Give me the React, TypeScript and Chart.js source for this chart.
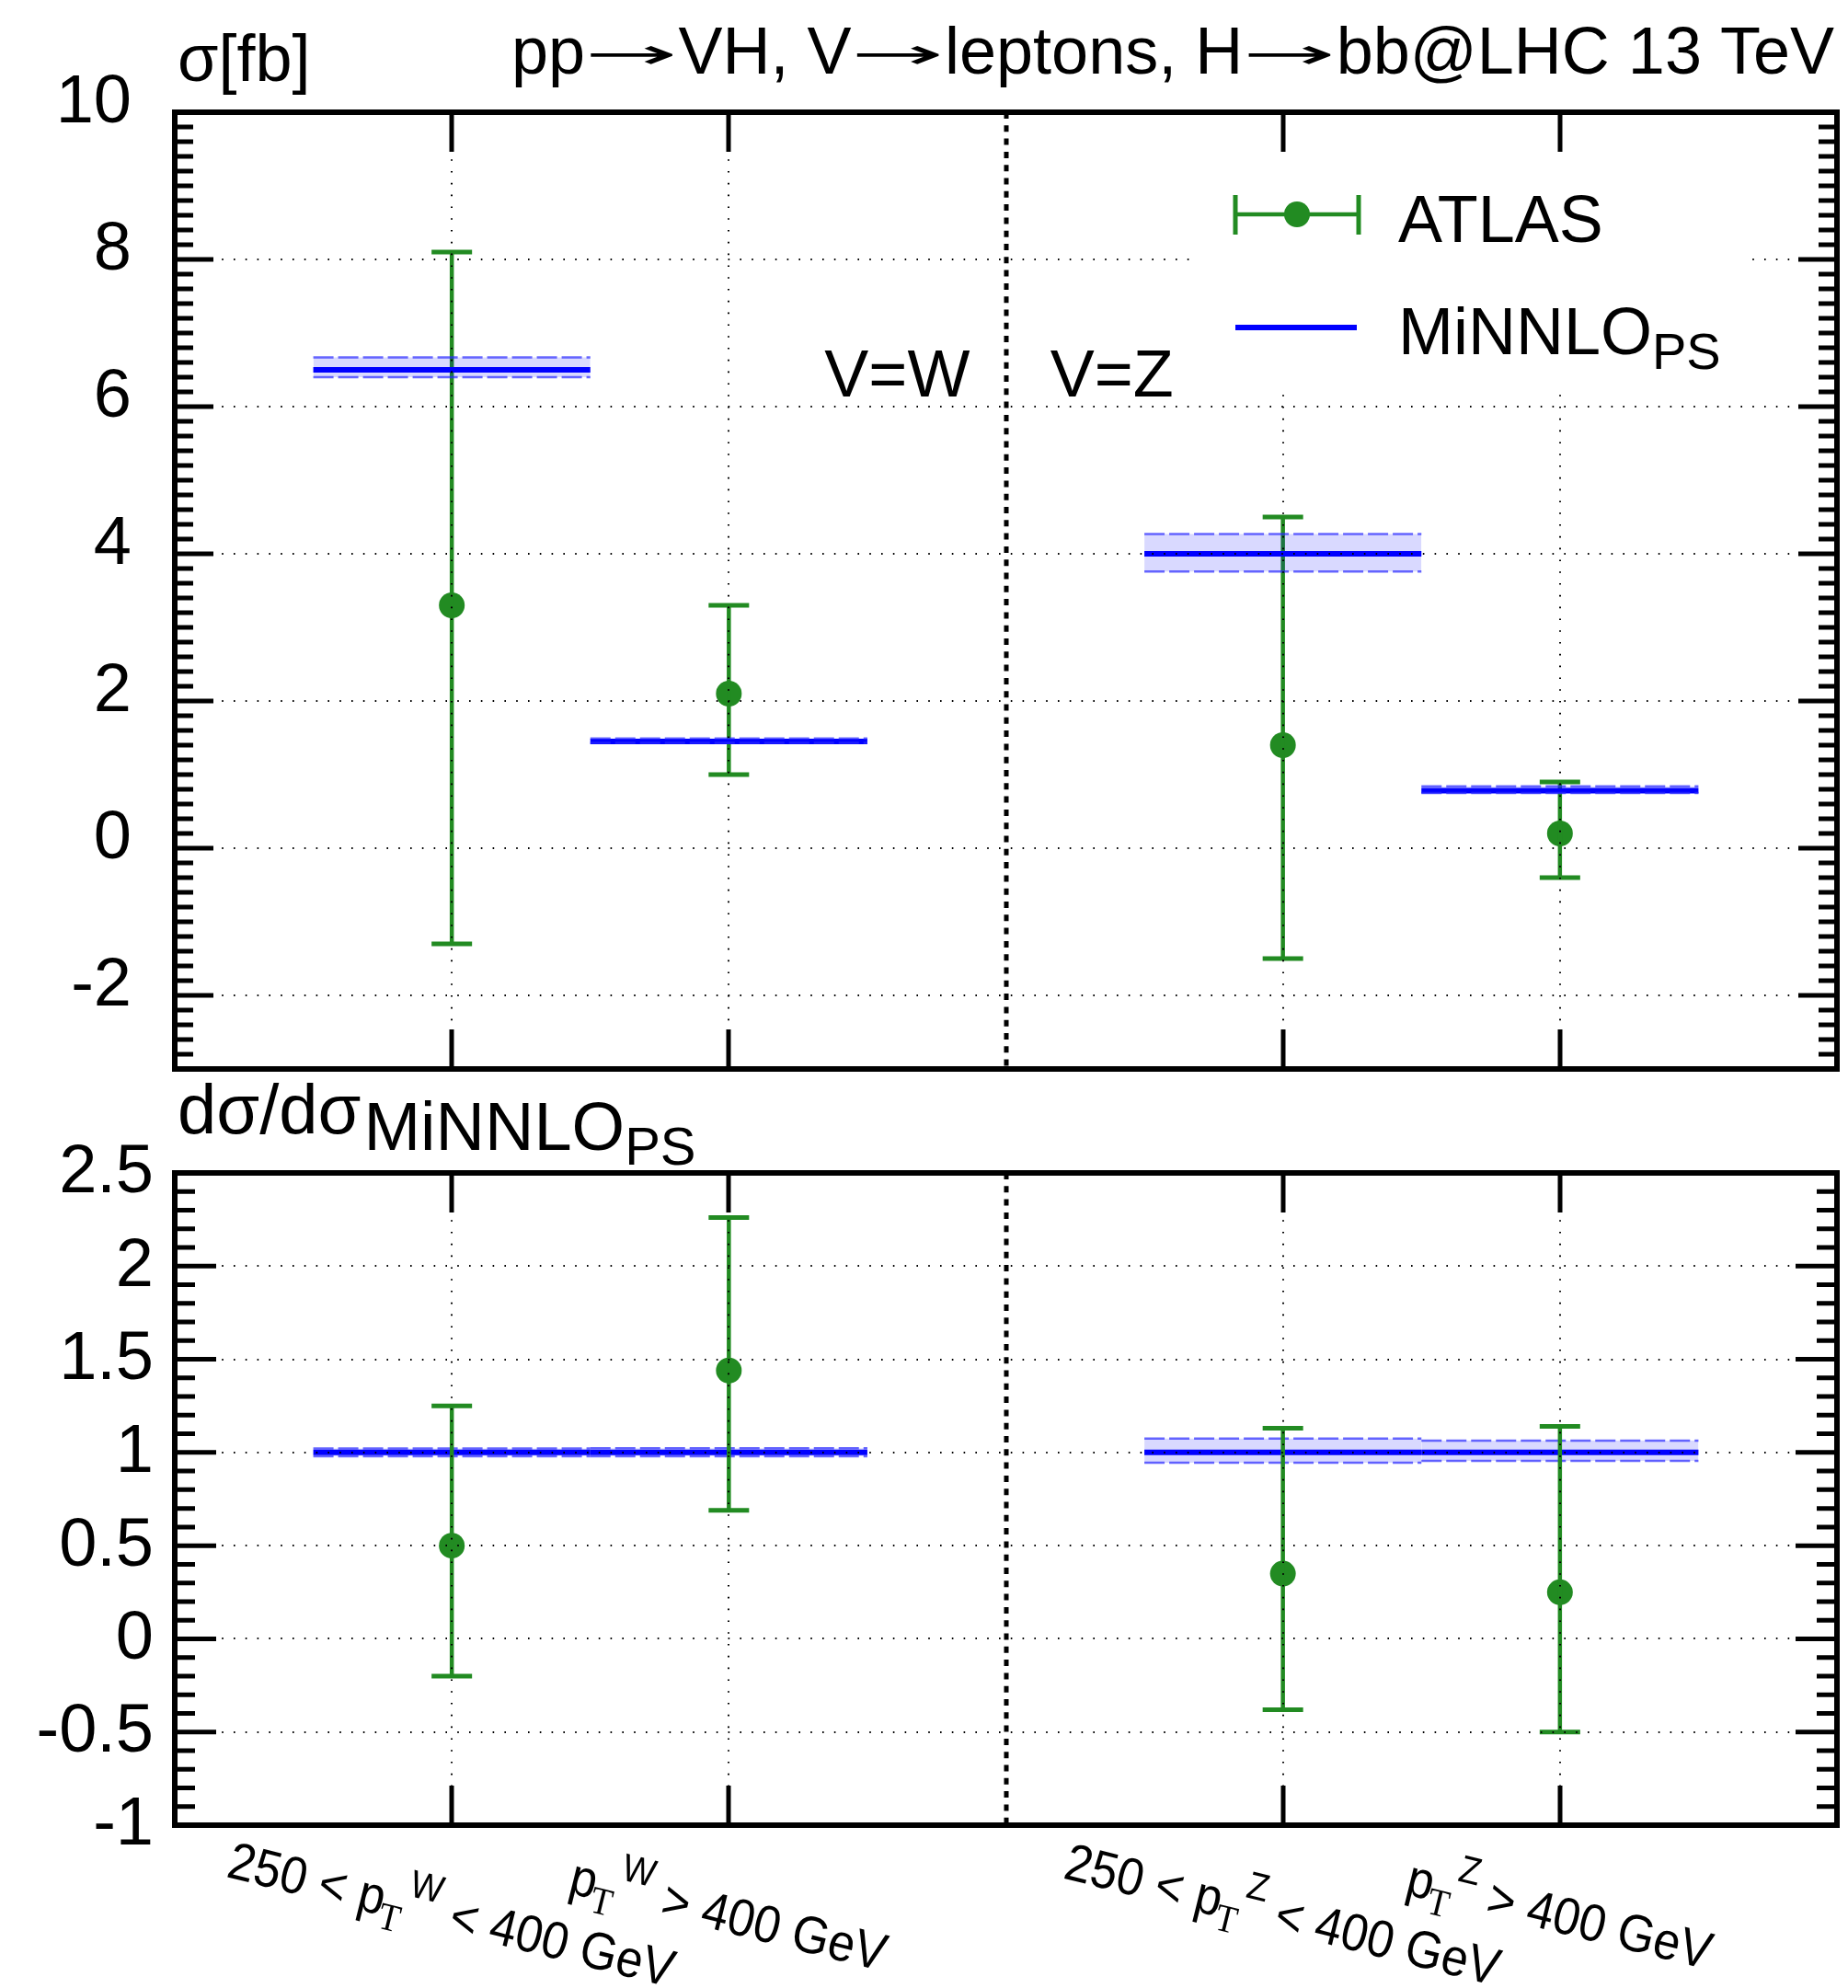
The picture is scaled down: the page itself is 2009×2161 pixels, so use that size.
import React, { useEffect, useRef } from "react";
import { Chart, registerables } from "chart.js";

Chart.register(...registerables);

const FONT = '"Liberation Sans", Arial, Helvetica, sans-serif';
const SERIF = '"Liberation Serif", "Times New Roman", serif';
const ARROW_FONT = '"DejaVu Sans", "Liberation Sans", sans-serif';
const GREEN = "#228b22";
const BLUE = "#0000ff";

// ---- categories (bins on a continuous x axis) ----
const CATEGORY_X = [1, 2, 4, 5];
const BIN_LO = [0.5, 1.5, 3.5, 4.5];
const BIN_HI = [1.5, 2.5, 4.5, 5.5];
const X_RANGE = [0, 6];
const SEPARATOR_X = 3;
const CAT_PREFIX = ["250 < p", "p", "250 < p", "p"];
const CAT_SUB = ["T", "T", "T", "T"];
const CAT_SUP = ["W", "W", "Z", "Z"];
const CAT_SUFFIX = [" < 400 GeV", " > 400 GeV", " < 400 GeV", " > 400 GeV"];

// ---- title pieces (joined by arrows) ----
const TITLE_PIECES = ["pp", "VH, V", "leptons, H", "bb@LHC 13 TeV"];

// ---- top panel: cross sections [fb] ----
const XS_RANGE = [-3, 10];
const XS_TICKS = [-2, 0, 2, 4, 6, 8, 10];
const ATLAS_XS = [3.3, 2.1, 1.4, 0.2];
const ATLAS_XS_HI = [8.1, 3.3, 4.5, 0.9];
const ATLAS_XS_LO = [-1.3, 1.0, -1.5, -0.4];
const MINNLO_XS = [6.5, 1.45, 4.0, 0.78];
const MINNLO_XS_HI = [6.67, 1.49, 4.27, 0.84];
const MINNLO_XS_LO = [6.4, 1.43, 3.76, 0.75];

// ---- bottom panel: ratio to MiNNLO_PS ----
const RATIO_RANGE = [-1, 2.5];
const RATIO_TICKS = [-1, -0.5, 0, 0.5, 1, 1.5, 2, 2.5];
const ATLAS_RATIO = [0.5, 1.44, 0.35, 0.25];
const ATLAS_RATIO_HI = [1.25, 2.26, 1.13, 1.14];
const ATLAS_RATIO_LO = [-0.2, 0.69, -0.38, -0.5];
const MINNLO_RATIO = [1, 1, 1, 1];
const MINNLO_RATIO_HI = [1.022, 1.023, 1.074, 1.064];
const MINNLO_RATIO_LO = [0.98, 0.98, 0.945, 0.955];

const PAGE_W = 2009;
const TOP_H = 1166;
const BOT_H = 995;

function bandDatasets(mid: number[], lo: number[], hi: number[], order: number) {
  const out: any[] = [];
  for (let i = 0; i < mid.length; i++) {
    out.push({
      type: "line",
      data: [
        { x: BIN_LO[i], y: lo[i] },
        { x: BIN_HI[i], y: lo[i] },
      ],
      borderColor: "rgba(40,40,255,0.7)",
      borderWidth: 2.5,
      borderDash: [22, 5],
      pointRadius: 0,
      fill: false,
      order,
    });
    out.push({
      type: "line",
      data: [
        { x: BIN_LO[i], y: hi[i] },
        { x: BIN_HI[i], y: hi[i] },
      ],
      borderColor: "rgba(40,40,255,0.7)",
      borderWidth: 2.5,
      borderDash: [22, 5],
      pointRadius: 0,
      fill: "-1",
      backgroundColor: "rgba(0,0,255,0.15)",
      order,
    });
    out.push({
      type: "line",
      data: [
        { x: BIN_LO[i], y: mid[i] },
        { x: BIN_HI[i], y: mid[i] },
      ],
      borderColor: BLUE,
      borderWidth: 6,
      pointRadius: 0,
      fill: false,
      order,
    });
  }
  return out;
}

function atlasDatasets(val: number[], lo: number[], hi: number[], order: number) {
  const bars: any[] = [];
  const caps: any[] = [];
  const pts: any[] = [];
  CATEGORY_X.forEach((x, i) => {
    bars.push({ x, y: lo[i] }, { x, y: hi[i] }, { x, y: null });
    caps.push({ x, y: lo[i] }, { x, y: hi[i] });
    pts.push({ x, y: val[i] });
  });
  return [
    {
      type: "line",
      data: bars,
      borderColor: GREEN,
      borderWidth: 4.5,
      pointRadius: 0,
      spanGaps: false,
      fill: false,
      order,
    },
    {
      type: "line",
      data: caps,
      showLine: false,
      pointStyle: "line",
      pointRadius: 22,
      pointBorderWidth: 5,
      pointBorderColor: GREEN,
      pointBackgroundColor: GREEN,
      order,
    },
    {
      type: "line",
      data: pts,
      showLine: false,
      pointStyle: "circle",
      pointRadius: 14,
      pointBorderWidth: 0,
      pointBackgroundColor: GREEN,
      pointBorderColor: GREEN,
      order,
    },
  ];
}

function yScale(range: number[], ticks: number[], padding: number, labelOffset: number) {
  return {
    type: "linear",
    position: "left",
    min: range[0],
    max: range[1],
    afterBuildTicks: (s: any) => {
      s.ticks = ticks.map((v) => ({ value: v }));
    },
    afterFit: (s: any) => {
      s.width = 190;
      s.paddingTop = 0;
      s.paddingBottom = 0;
    },
    grid: { display: false, drawTicks: false },
    border: { display: false },
    ticks: {
      autoSkip: false,
      padding,
      labelOffset,
      color: "#000",
      font: { family: FONT, size: 74 },
      callback: (v: any) => String(v),
    },
  };
}

type FrameCfg = {
  id: string;
  range: number[];
  ticks: number[];
  minor: number;
  major: number;
  majorLen: number;
  minorLen: number;
  overlay?: (chart: any) => void;
  text?: (chart: any) => void;
};

function framePlugin(cfg: FrameCfg) {
  return {
    id: cfg.id,
    afterDatasetsDraw(chart: any) {
      const { ctx, chartArea: a } = chart;
      const xs = chart.scales.x;
      const ys = chart.scales.y;
      ctx.save();
      // dotted grid lines (drawn over data, as in the reference)
      ctx.strokeStyle = "#000";
      ctx.lineWidth = 2;
      ctx.setLineDash([1.6, 11.2]);
      ctx.beginPath();
      cfg.ticks.forEach((v) => {
        if (v <= cfg.range[0] || v >= cfg.range[1]) return;
        const py = Math.round(ys.getPixelForValue(v));
        ctx.moveTo(a.left, py);
        ctx.lineTo(a.right, py);
      });
      CATEGORY_X.forEach((v) => {
        const px = Math.round(xs.getPixelForValue(v));
        ctx.moveTo(px, a.top);
        ctx.lineTo(px, a.bottom);
      });
      ctx.stroke();
      // V=W / V=Z separator
      ctx.lineWidth = 5;
      ctx.setLineDash([7, 7.3]);
      const sx = Math.round(xs.getPixelForValue(SEPARATOR_X));
      ctx.beginPath();
      ctx.moveTo(sx, a.top);
      ctx.lineTo(sx, a.bottom);
      ctx.stroke();
      ctx.setLineDash([]);
      if (cfg.overlay) cfg.overlay(chart);
      // inner ticks
      ctx.strokeStyle = "#000";
      ctx.lineWidth = 5;
      ctx.beginPath();
      const n = Math.round((cfg.range[1] - cfg.range[0]) / cfg.minor);
      for (let k = 0; k <= n; k++) {
        const v = cfg.range[0] + k * cfg.minor;
        const r = v / cfg.major;
        const isMajor = Math.abs(r - Math.round(r)) < 1e-6;
        const len = isMajor ? cfg.majorLen : cfg.minorLen;
        const py = ys.getPixelForValue(v);
        ctx.moveTo(a.left, py);
        ctx.lineTo(a.left + len, py);
        ctx.moveTo(a.right, py);
        ctx.lineTo(a.right - len, py);
      }
      CATEGORY_X.forEach((v) => {
        const px = Math.round(xs.getPixelForValue(v));
        ctx.moveTo(px, a.top);
        ctx.lineTo(px, a.top + 43);
        ctx.moveTo(px, a.bottom);
        ctx.lineTo(px, a.bottom - 43);
      });
      ctx.stroke();
      ctx.lineWidth = 6;
      ctx.strokeRect(a.left, a.top, a.right - a.left, a.bottom - a.top);
      ctx.restore();
    },
    afterDraw(chart: any) {
      if (cfg.text) {
        chart.ctx.save();
        cfg.text(chart);
        chart.ctx.restore();
      }
    },
  };
}

function topOverlay(chart: any) {
  const { ctx, chartArea: a } = chart;
  // legend box (hides grid lines)
  const bx = a.right - 697;
  const by = a.top + 51;
  ctx.fillStyle = "#fff";
  ctx.fillRect(bx, by, 605, 252);
  // ATLAS symbol
  const x0 = bx + 43;
  const x1 = bx + 177;
  const xc = (x0 + x1) / 2;
  const y1 = by + 60;
  ctx.strokeStyle = GREEN;
  ctx.lineWidth = 4.5;
  ctx.beginPath();
  ctx.moveTo(x0, y1);
  ctx.lineTo(x1, y1);
  ctx.stroke();
  ctx.lineWidth = 5;
  ctx.beginPath();
  ctx.moveTo(x0, y1 - 21);
  ctx.lineTo(x0, y1 + 22);
  ctx.moveTo(x1, y1 - 21);
  ctx.lineTo(x1, y1 + 22);
  ctx.stroke();
  ctx.fillStyle = GREEN;
  ctx.beginPath();
  ctx.arc(xc, y1, 14, 0, Math.PI * 2);
  ctx.fill();
  // MiNNLO symbol
  const y2 = by + 183;
  ctx.strokeStyle = BLUE;
  ctx.lineWidth = 6;
  ctx.beginPath();
  ctx.moveTo(x0, y2);
  ctx.lineTo(x1 - 2, y2);
  ctx.stroke();
  // labels
  ctx.fillStyle = "#000";
  ctx.textAlign = "left";
  ctx.textBaseline = "alphabetic";
  ctx.font = `72px ${FONT}`;
  const tx = bx + 220;
  ctx.fillText("ATLAS", tx, by + 90);
  ctx.fillText("MiNNLO", tx, by + 212);
  const w = ctx.measureText("MiNNLO").width;
  ctx.font = `56px ${FONT}`;
  ctx.fillText("PS", tx + w, by + 228);
}

function topText(chart: any) {
  const { ctx, chartArea: a, scales } = chart;
  ctx.fillStyle = "#000";
  ctx.textBaseline = "alphabetic";
  ctx.font = `72px ${FONT}`;
  ctx.textAlign = "left";
  ctx.fillText("σ[fb]", a.left + 3, a.top - 34);

  // title: pieces joined by long thin arrows, spanning x 556 .. right edge
  const titleLeft = 556;
  const titleRight = a.right - 3;
  const pieceW = TITLE_PIECES.map((p) => ctx.measureText(p).width);
  const sumW = pieceW.reduce((s, w) => s + w, 0);
  const nArrows = TITLE_PIECES.length - 1;
  const arrowW = (titleRight - titleLeft - sumW) / nArrows;
  const arrowSize = 46;
  ctx.font = `${arrowSize}px ${ARROW_FONT}`;
  const glyphW = ctx.measureText("→").width;
  const tb = a.top - 42;
  let tx = titleLeft;
  TITLE_PIECES.forEach((p, i) => {
    ctx.font = `72px ${FONT}`;
    ctx.fillText(p, tx, tb);
    tx += pieceW[i];
    if (i < nArrows) {
      ctx.save();
      ctx.font = `${arrowSize}px ${ARROW_FONT}`;
      ctx.translate(tx, tb - 6);
      ctx.scale(arrowW / glyphW, 1);
      ctx.fillText("→", 0, 0);
      ctx.restore();
      tx += arrowW;
    }
  });

  ctx.font = `72px ${FONT}`;
  const ly = scales.y.getPixelForValue(6.14);
  ctx.textAlign = "right";
  ctx.fillText("V=W", scales.x.getPixelForValue(2.87), ly);
  ctx.textAlign = "left";
  ctx.fillText("V=Z", scales.x.getPixelForValue(3.16), ly);
}

function bottomText(chart: any) {
  const { ctx, chartArea: a, scales } = chart;
  ctx.fillStyle = "#000";
  ctx.textBaseline = "alphabetic";
  ctx.textAlign = "left";
  // y title: dσ/dσ_{MiNNLO_{PS}}
  ctx.font = `76px ${FONT}`;
  const t1 = "dσ/dσ";
  const x0 = a.left + 3;
  ctx.fillText(t1, x0, a.top - 43);
  const w1 = ctx.measureText(t1).width;
  ctx.font = `74px ${FONT}`;
  ctx.fillText("MiNNLO", x0 + w1 + 3, a.top - 25);
  const w2 = ctx.measureText("MiNNLO").width;
  ctx.font = `58px ${FONT}`;
  ctx.fillText("PS", x0 + w1 + 3 + w2, a.top - 9);

  // rotated category labels
  const big = 57;
  const small = 42;
  const squeeze = 0.91;
  const ang = (14 * Math.PI) / 180;
  CATEGORY_X.forEach((xv, i) => {
    const cx = scales.x.getPixelForValue(xv);
    const cy = a.bottom + 96;
    ctx.font = `${big}px ${FONT}`;
    const wp = ctx.measureText(CAT_PREFIX[i]).width;
    const ws = ctx.measureText(CAT_SUFFIX[i]).width;
    ctx.font = `${small}px ${SERIF}`;
    const wsub = ctx.measureText(CAT_SUB[i]).width;
    ctx.font = `${small}px ${FONT}`;
    const wsup = ctx.measureText(CAT_SUP[i]).width;
    const total = wp + wsub + wsup + ws;
    ctx.save();
    ctx.translate(cx, cy);
    ctx.rotate(ang);
    ctx.scale(squeeze, 1);
    let x = -total / 2;
    const base = 0.36 * big;
    ctx.font = `${big}px ${FONT}`;
    ctx.fillText(CAT_PREFIX[i], x, base);
    x += wp;
    ctx.font = `${small}px ${SERIF}`;
    ctx.fillText(CAT_SUB[i], x - 2, base + 14);
    x += wsub;
    ctx.font = `${small}px ${FONT}`;
    ctx.fillText(CAT_SUP[i], x, base - 28);
    x += wsup;
    ctx.font = `${big}px ${FONT}`;
    ctx.fillText(CAT_SUFFIX[i], x, base);
    ctx.restore();
  });
}

function baseOptions(padding: any, yCfg: any) {
  return {
    responsive: false,
    animation: false as const,
    events: [] as any[],
    layout: { padding, autoPadding: false },
    plugins: { legend: { display: false }, tooltip: { enabled: false }, title: { display: false } },
    scales: {
      x: { type: "linear", min: X_RANGE[0], max: X_RANGE[1], display: false },
      y: yCfg,
    },
  };
}

export default function App() {
  const topRef = useRef<HTMLCanvasElement>(null);
  const botRef = useRef<HTMLCanvasElement>(null);

  useEffect(() => {
    const top = new Chart(topRef.current as HTMLCanvasElement, {
      type: "line",
      data: {
        datasets: [
          ...bandDatasets(MINNLO_XS, MINNLO_XS_LO, MINNLO_XS_HI, 1),
          ...atlasDatasets(ATLAS_XS, ATLAS_XS_LO, ATLAS_XS_HI, 2),
        ],
      },
      options: baseOptions(
        { top: 122, right: 12, bottom: 4, left: 0 },
        yScale(XS_RANGE, XS_TICKS, 47, -9)
      ) as any,
      plugins: [
        framePlugin({
          id: "frameTop",
          range: XS_RANGE,
          ticks: XS_TICKS,
          minor: 0.2,
          major: 2,
          majorLen: 42,
          minorLen: 20,
          overlay: topOverlay,
          text: topText,
        }),
      ],
    } as any);

    const bot = new Chart(botRef.current as HTMLCanvasElement, {
      type: "line",
      data: {
        datasets: [
          ...bandDatasets(MINNLO_RATIO, MINNLO_RATIO_LO, MINNLO_RATIO_HI, 2),
          ...atlasDatasets(ATLAS_RATIO, ATLAS_RATIO_LO, ATLAS_RATIO_HI, 1),
        ],
      },
      options: baseOptions(
        { top: 109, right: 12, bottom: 177, left: 0 },
        yScale(RATIO_RANGE, RATIO_TICKS, 23, 1)
      ) as any,
      plugins: [
        framePlugin({
          id: "frameBottom",
          range: RATIO_RANGE,
          ticks: RATIO_TICKS,
          minor: 0.1,
          major: 0.5,
          majorLen: 45,
          minorLen: 22,
          text: bottomText,
        }),
      ],
    } as any);

    return () => {
      top.destroy();
      bot.destroy();
    };
  }, []);

  return (
    <div
      style={{
        position: "absolute",
        left: 0,
        top: 0,
        width: PAGE_W,
        height: TOP_H + BOT_H,
        background: "#fff",
      }}
    >
      <canvas
        ref={topRef}
        width={PAGE_W}
        height={TOP_H}
        style={{ position: "absolute", left: 0, top: 0 }}
      />
      <canvas
        ref={botRef}
        width={PAGE_W}
        height={BOT_H}
        style={{ position: "absolute", left: 0, top: TOP_H }}
      />
    </div>
  );
}
